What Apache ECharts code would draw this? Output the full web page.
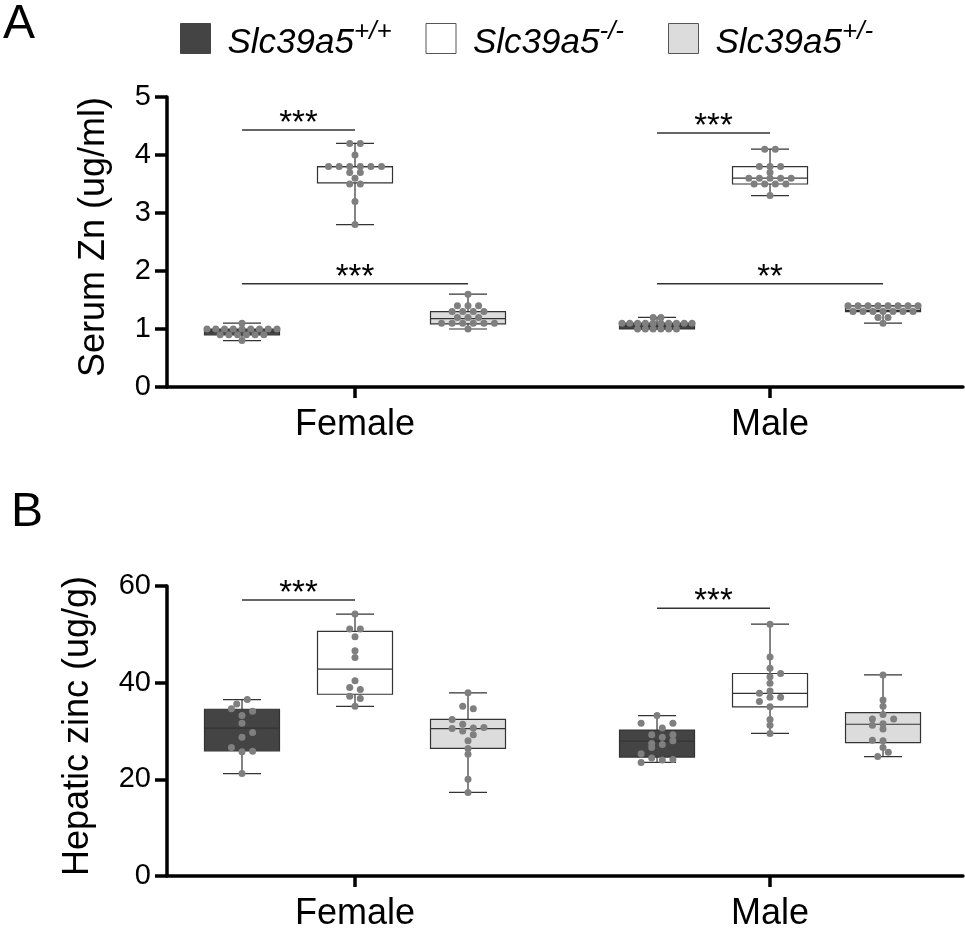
<!DOCTYPE html>
<html lang="en">
<head>
<meta charset="UTF-8">
<title>Serum and hepatic zinc</title>
<style>
    html,body,#chart{ width:100%; height:100%; margin:0; padding:0; background:#fff; }
</style>
</head>
<body>
<div id="chart"></div>
<script src="https://cdn.jsdelivr.net/npm/echarts@6/dist/echarts.min.js"></script>
<script>
var groupNames = ['Female', 'Male'];
var genotypes = ['Slc39a5+/+', 'Slc39a5-/-', 'Slc39a5+/-'];

// box stats: [whisker low, q1, median, q3, whisker high], one row per group
var serumWtBox = [[0.8, 0.9, 0.95, 1.0, 1.1], [1.0, 1.0, 1.05, 1.1, 1.2]];
var serumKoBox = [[2.8, 3.52, 3.8, 3.8, 4.2], [3.3, 3.5, 3.6, 3.8, 4.1]];
var serumHetBox = [[1.0, 1.09, 1.18, 1.3, 1.6], [1.1, 1.3, 1.32, 1.4, 1.4]];
var liverWtBox = [[21.2, 25.9, 30.6, 34.5, 36.5], [23.5, 24.6, 27.9, 30.2, 33.2]];
var liverKoBox = [[35.1, 37.6, 42.8, 50.6, 54.2], [29.5, 35.0, 37.8, 41.9, 52.1]];
var liverHetBox = [[17.3, 26.4, 30.5, 32.4, 37.9], [24.7, 27.6, 31.4, 33.8, 41.6]];

// dots, swarm rows read left to right, null leaves a slot empty
var serumWtFemale = [[1.1], [1, 1, 1, 1, 1, 1, 1, 1, 1], [0.9, 0.9, 0.9, 0.9, 0.9, 0.9], [0.8]];
var serumKoFemale = [[4.2, 4.2], [4.0], [3.8, 3.8, 3.8, 3.8, 3.8, 3.8], [3.7, 3.7], [3.6], [3.5, 3.5], [3.2], [2.8]];
var serumHetFemale = [[1.6], [1.4, 1.4, 1.4], [1.3, 1.3, 1.3, 1.3], [1.2, 1.2, 1.2], [1.1, 1.1, 1.1, 1.1, 1.1, 1.1], [1.0]];
var serumWtMale = [[1.2, 1.2], [1.1, 1.1, 1.1, 1.1, 1.1, 1.1, 1.1, 1.1, 1.1, 1.1], [1, 1, 1, 1, 1, 1]];
var serumKoMale = [[4.1, 4.1], [3.8, 3.8, 3.8], [3.7], [3.6, 3.6, 3.6, 3.6, 3.6], [3.5, 3.5, 3.5, 3.5], [3.3]];
var serumHetMale = [[1.4, 1.4, 1.4, 1.4, 1.4, 1.4, 1.4, 1.4], [1.3, 1.3, 1.3, 1.3, 1.3, 1.3, 1.3], [1.2, 1.2], [1.1]];

var liverWtFemale = [[35.6, 36.5], [34.6, 33.2, 34.1], [31.6], [null, 28.7, 29.7], [26.6, 25.7, 25.8], [21.2]];
var liverKoFemale = [[54.2], [51.1, 51.1], [49.5], [46.6], [45.2], [40.4], [39.0, 38.6], [37.2, 36.7], [35.1]];
var liverHetFemale = [[37.9], [35.1, 34.6], [32.4, 31.4, 30.6, 30.7], [30.5, 30.0, 29.2, null], [28.0], [26.4], [25.2], [20.0], [17.3]];
var liverWtMale = [[33.2], [31.6, null, 30.6, 31.6], [null, 29.2, 28.7, 29.2], [null, 27.4, 27.2, 28.0], [null, 26.6, null, null], [25.3, 24.4, 24.0, 24.1], [23.5, null, null, null]];
var liverKoMale = [[52.1], [45.3], [null, 43.0, 41.9], [41.2], [39.9], [37.8, 38.3, null], [36.1, 37.0, 37.0], [35.0], [32.4], [31.2], [29.5]];
var liverHetMale = [[41.6], [36.4], [35.1], [33.4], [32.5, 31.5, 32.5], [31.2, 30.4, null], [28.1, 28.0, null], [26.6], [24.7, 25.6]];

// significance bars: [group, first genotype, last genotype, height, stars]
var serumSig = [[0, 0, 1, 4.43, '***'], [0, 0, 2, 1.78, '***'], [1, 0, 1, 4.38, '***'], [1, 0, 2, 1.78, '**']];
var liverSig = [[0, 0, 1, 57.1, '***'], [1, 0, 1, 55.4, '***']];

var serumBoxes = [serumWtBox, serumKoBox, serumHetBox];
var liverBoxes = [liverWtBox, liverKoBox, liverHetBox];
var serumDots = [[serumWtFemale, serumKoFemale, serumHetFemale], [serumWtMale, serumKoMale, serumHetMale]];
var liverDots = [[liverWtFemale, liverKoFemale, liverHetFemale], [liverWtMale, liverKoMale, liverHetMale]];

var font = '"Liberation Sans", Arial, sans-serif';
var fills = ['#444444', '#ffffff', '#dcdcdc'];
var edge = '#333333';
var pxPerGroup = 415;
var genoOffset = 113 / pxPerGroup;

function boxX(group, geno) {
    return group + (geno - 1) * genoOffset;
}

function renderBox(params, api) {
    var x = api.value(0);
    var low = api.coord([x, api.value(1)]);
    var q1 = api.coord([x, api.value(2)]);
    var med = api.coord([x, api.value(3)]);
    var q3 = api.coord([x, api.value(4)]);
    var high = api.coord([x, api.value(5)]);
    var cx = low[0], halfBox = 37.5, halfCap = 19;
    var line = function (x1, y1, x2, y2) {
        return {
            type: 'line',
            shape: { x1: x1, y1: y1, x2: x2, y2: y2 },
            style: { stroke: edge, lineWidth: 1.2 }
        };
    };
    return {
        type: 'group',
        children: [
            line(cx, high[1], cx, q3[1]),
            line(cx, q1[1], cx, low[1]),
            line(cx - halfCap, high[1], cx + halfCap, high[1]),
            line(cx - halfCap, low[1], cx + halfCap, low[1]),
            {
                type: 'rect',
                shape: { x: cx - halfBox, y: q3[1], width: halfBox * 2, height: q1[1] - q3[1] },
                style: { fill: api.visual('color'), stroke: edge, lineWidth: 1.2 }
            },
            line(cx - halfBox, med[1], cx + halfBox, med[1])
        ]
    };
}

function renderSig(params, api) {
    var a = api.coord([api.value(0), api.value(2)]);
    var b = api.coord([api.value(1), api.value(2)]);
    return {
        type: 'group',
        children: [
            {
                type: 'line',
                shape: { x1: a[0], y1: a[1], x2: b[0], y2: b[1] },
                style: { stroke: edge, lineWidth: 1.5 }
            },
            {
                type: 'text',
                style: {
                    x: (a[0] + b[0]) / 2, y: a[1] - 6,
                    text: api.value(3),
                    fill: '#000', font: '33px ' + font,
                    textAlign: 'center', textVerticalAlign: 'middle'
                }
            }
        ]
    };
}

// one [x, y] per dot, same-row dots spread evenly around the box centre
function swarm(rows, group, geno) {
    var widest = Math.max.apply(null, rows.map(function (r) { return r.length; }));
    var step = Math.min(10.6, 70 / Math.max(widest - 1, 1)) / pxPerGroup;
    var out = [];
    rows.forEach(function (row) {
        row.forEach(function (v, i) {
            if (v === null) return;
            out.push([boxX(group, geno) + (i - (row.length - 1) / 2) * step, v]);
        });
    });
    return out;
}

function panelSeries(axisIndex, boxes, dots, sig) {
    var series = [];
    genotypes.forEach(function (name, g) {
        series.push({
            name: name,
            type: 'custom',
            xAxisIndex: axisIndex,
            yAxisIndex: axisIndex,
            renderItem: renderBox,
            itemStyle: { color: fills[g] },
            encode: { x: 0, y: [1, 2, 3, 4, 5] },
            z: 2,
            silent: true,
            data: boxes[g].map(function (s, i) {
                return [boxX(i, g)].concat(s);
            })
        });
    });
    var points = [];
    dots.forEach(function (perGeno, i) {
        perGeno.forEach(function (rows, g) {
            points = points.concat(swarm(rows, i, g));
        });
    });
    series.push({
        name: 'dots',
        type: 'scatter',
        xAxisIndex: axisIndex,
        yAxisIndex: axisIndex,
        symbolSize: 7,
        itemStyle: { color: '#7f7f7f', opacity: 1 },
        z: 3,
        silent: true,
        data: points
    });
    series.push({
        name: 'sig',
        type: 'custom',
        xAxisIndex: axisIndex,
        yAxisIndex: axisIndex,
        renderItem: renderSig,
        encode: { x: [0, 1], y: 2 },
        z: 4,
        silent: true,
        data: sig.map(function (s) {
            return [boxX(s[0], s[1]), boxX(s[0], s[2]), s[3], s[4]];
        })
    });
    return series;
}

function xAxis(grid) {
    return {
        type: 'value',
        gridIndex: grid,
        min: -0.453,
        max: 1.465,
        splitLine: { show: false },
        axisLine: { onZero: false, lineStyle: { color: '#000', width: 3.5 } },
        axisTick: { customValues: [0, 1], length: 11, lineStyle: { color: '#000', width: 3.5 } },
        axisLabel: {
            customValues: [0, 1],
            margin: 20,
            color: '#000',
            fontFamily: font,
            fontSize: 36,
            formatter: function (v) { return groupNames[v]; }
        }
    };
}

function yAxis(grid, name, max, interval, gap) {
    return {
        type: 'value',
        gridIndex: grid,
        min: 0,
        max: max,
        interval: interval,
        name: name,
        nameLocation: 'middle',
        nameGap: gap,
        nameRotate: 90,
        nameTextStyle: { color: '#000', fontFamily: font, fontSize: 36, padding: [0, 0, 0, 10] },
        splitLine: { show: false },
        axisLine: { show: true, onZero: false, lineStyle: { color: '#000', width: 3.5 } },
        axisTick: { show: true, length: 12, lineStyle: { color: '#000', width: 3.5 } },
        axisLabel: { margin: 16, padding: [4, 0, 0, 0], color: '#000', fontFamily: font, fontSize: 29 }
    };
}

var legendLeft = [180, 425.5, 668];
var legends = genotypes.map(function (name, g) {
    return {
        left: legendLeft[g],
        top: 16,
        orient: 'horizontal',
        padding: 0,
        selectedMode: false,
        icon: 'rect',
        itemWidth: 30,
        itemHeight: 30,
        data: [{
            name: name,
            itemStyle: { color: fills[g], borderColor: g === 0 ? fills[g] : '#555', borderWidth: 1 }
        }],
        formatter: function (n) {
            return '{name|' + n.slice(0, 7) + '}{sup|' + n.slice(7) + '}';
        },
        textStyle: {
            rich: {
                name: { fontFamily: font, fontStyle: 'italic', fontSize: 35, color: '#000', padding: [10, 0, 0, 12], lineHeight: 40 },
                sup: { fontFamily: font, fontStyle: 'italic', fontSize: 26, color: '#000', verticalAlign: 'top', lineHeight: 24 }
            }
        }
    };
});

var myChart = echarts.init(document.getElementById('chart'), null, { renderer: 'canvas' });
myChart.setOption({
    animation: false,
    backgroundColor: '#fff',
    title: [
        { text: 'A', left: -2, top: -4, textStyle: { fontFamily: font, fontWeight: 'normal', fontSize: 48, color: '#000' } },
        { text: 'B', left: 6, top: 484, textStyle: { fontFamily: font, fontWeight: 'normal', fontSize: 48, color: '#000' } }
    ],
    legend: legends,
    grid: [
        { left: 167, right: 2, top: 97, height: 290, outerBoundsMode: 'none' },
        { left: 167, right: 2, top: 586, height: 290, outerBoundsMode: 'none' }
    ],
    xAxis: [xAxis(0), xAxis(1)],
    yAxis: [
        yAxis(0, 'Serum Zn (ug/ml)', 5, 1, 55),
        yAxis(1, 'Hepatic zinc (ug/g)', 60, 20, 71)
    ],
    series: panelSeries(0, serumBoxes, serumDots, serumSig).concat(panelSeries(1, liverBoxes, liverDots, liverSig))
});
</script>
</body>
</html>
